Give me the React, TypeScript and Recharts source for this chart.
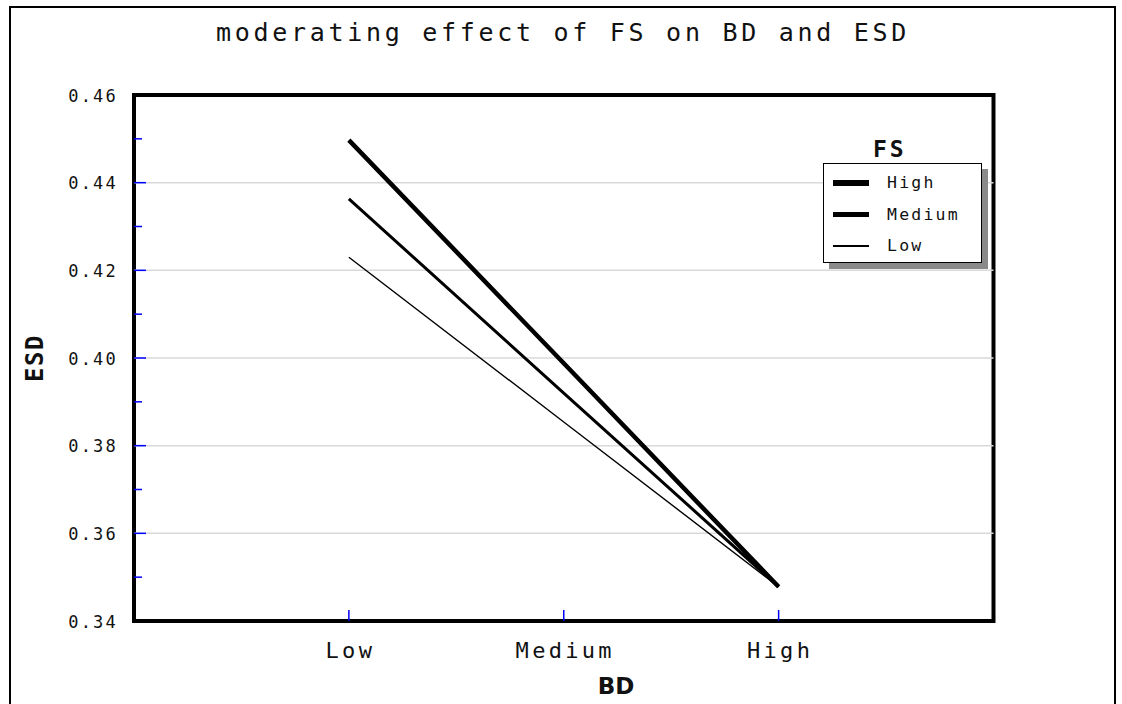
import { LineChart, Line, XAxis, YAxis, ReferenceLine, ReferenceArea, Legend } from "recharts";

const bdLevels = ["Low", "Medium", "High"];
const bdPositions = [1, 2, 3];
const fsHigh = [0.4497, 0.3988, 0.3478];
const fsMedium = [0.4363, 0.392, 0.3478];
const fsLow = [0.423, 0.3854, 0.3478];
const yTicks = [0.34, 0.35, 0.36, 0.37, 0.38, 0.39, 0.4, 0.41, 0.42, 0.43, 0.44, 0.45, 0.46];
const gridValues = [0.36, 0.38, 0.4, 0.42, 0.44];

const series = [
  { key: "High", values: fsHigh, width: 4.5, legendWidth: 6 },
  { key: "Medium", values: fsMedium, width: 3, legendWidth: 4.5 },
  { key: "Low", values: fsLow, width: 1.4, legendWidth: 2.5 },
];

const data = bdLevels.map((bd, i) => ({
  bd,
  pos: bdPositions[i],
  High: fsHigh[i],
  Medium: fsMedium[i],
  Low: fsLow[i],
}));

const MONO = "'DejaVu Sans Mono', monospace";

function YTick(props: any) {
  const { x, y, payload } = props;
  const v = payload.value as number;
  const major = Math.round(v * 100) % 2 === 0;
  const edge = v <= 0.34 || v >= 0.46;
  return (
    <g>
      {!edge && (
        <line x1={x} x2={x + (major ? 12 : 8)} y1={y} y2={y} stroke="#0000ff" strokeWidth={1.5} />
      )}
      {major && (
        <text
          x={x - 16}
          y={y}
          dy={6.5}
          textAnchor="end"
          fontFamily={MONO}
          fontSize={17}
          fill="#111"
          style={{ letterSpacing: 2.2 }}
        >
          {v.toFixed(2)}
        </text>
      )}
    </g>
  );
}

function XTick(props: any) {
  const { x, y, payload } = props;
  const label = bdLevels[bdPositions.indexOf(payload.value)];
  return (
    <g>
      <line x1={x} x2={x} y1={y - 11} y2={y} stroke="#0000ff" strokeWidth={1.5} />
      <text
        x={x + 1.5}
        y={y + 37}
        textAnchor="middle"
        fontFamily={MONO}
        fontSize={22}
        fill="#111"
        style={{ letterSpacing: 3.3 }}
      >
        {label}
      </text>
    </g>
  );
}

function FsLegend() {
  return (
    <div style={{ position: "relative", width: 175, height: 140, fontFamily: MONO }}>
      <div
        style={{
          position: "absolute",
          left: 50,
          top: 3,
          fontSize: 23,
          fontWeight: "bold",
          letterSpacing: 3,
          lineHeight: "23px",
          color: "#111",
        }}
      >
        FS
      </div>
      <div
        style={{
          position: "absolute",
          left: 6,
          top: 34,
          width: 159,
          height: 100,
          background: "#8a8a8a",
        }}
      />
      <div
        style={{
          position: "absolute",
          left: 0,
          top: 28,
          width: 159,
          height: 100,
          boxSizing: "border-box",
          border: "1.5px solid #000",
          background: "#fff",
        }}
      >
        {series.map((s, i) => (
          <div
            key={s.key}
            style={{ position: "absolute", left: 0, top: 19 + i * 31.5 - 10, height: 20, width: 155 }}
          >
            <div
              style={{
                position: "absolute",
                left: 9,
                top: 10 - s.legendWidth / 2,
                width: 36,
                height: s.legendWidth,
                background: "#000",
              }}
            />
            <div
              style={{
                position: "absolute",
                left: 63,
                top: 0,
                fontSize: 16.5,
                lineHeight: "20px",
                letterSpacing: 2.2,
                color: "#111",
              }}
            >
              {s.key}
            </div>
          </div>
        ))}
      </div>
    </div>
  );
}

const frameLine = { position: "absolute" as const, background: "#000" };

export default function App() {
  return (
    <div
      style={{
        position: "absolute",
        left: 0,
        top: 0,
        width: 1122,
        height: 704,
        overflow: "hidden",
        background: "#fff",
      }}
    >
      <div style={{ ...frameLine, left: 9, top: 6, width: 1107, height: 2 }} />
      <div style={{ ...frameLine, left: 9, top: 6, width: 2, height: 698 }} />
      <div style={{ ...frameLine, left: 1114, top: 6, width: 2, height: 698 }} />
      <div
        style={{
          position: "absolute",
          left: 0,
          top: 20,
          width: 1122,
          textAlign: "center",
          fontFamily: MONO,
          fontSize: 25,
          lineHeight: "25px",
          letterSpacing: 3.7,
          paddingLeft: 4,
          boxSizing: "border-box",
          color: "#111",
        }}
      >
        moderating effect of FS on BD and ESD
      </div>
      <div style={{ position: "absolute", left: 0, top: 0 }}>
        <LineChart
          width={1122}
          height={704}
          data={data}
          margin={{ top: 95, right: 128.5, bottom: 0, left: 0 }}
        >
          <XAxis
            type="number"
            dataKey="pos"
            domain={[0, 4]}
            ticks={bdPositions}
            interval={0}
            height={83}
            tickSize={0}
            tickMargin={0}
            axisLine={false}
            tickLine={false}
            tick={<XTick />}
          />
          <YAxis
            type="number"
            domain={[0.34, 0.46]}
            ticks={yTicks}
            interval={0}
            width={134}
            tickSize={0}
            tickMargin={0}
            axisLine={false}
            tickLine={false}
            tick={<YTick />}
          />
          {gridValues.map((v) => (
            <ReferenceLine key={v} y={v} stroke="#d9d9d9" strokeWidth={1.5} />
          ))}
          {[...series].reverse().map((s) => (
            <Line
              key={s.key}
              type="linear"
              dataKey={s.key}
              name={s.key}
              stroke="#000"
              strokeWidth={s.width}
              dot={false}
              activeDot={false}
              isAnimationActive={false}
            />
          ))}
          <ReferenceArea
            x1={0}
            x2={4}
            y1={0.34}
            y2={0.46}
            fill="none"
            fillOpacity={0}
            stroke="#000"
            strokeWidth={4}
            ifOverflow="visible"
          />
          <Legend
            layout="vertical"
            verticalAlign="middle"
            align="center"
            wrapperStyle={{ left: 823, top: 135, width: 175, height: 140 }}
            content={<FsLegend />}
          />
        </LineChart>
      </div>
      <div
        style={{
          position: "absolute",
          left: 35 - 40,
          top: 358 - 12,
          width: 80,
          height: 24,
          lineHeight: "24px",
          textAlign: "center",
          transform: "rotate(-90deg)",
          fontFamily: MONO,
          fontWeight: "bold",
          fontSize: 24,
          letterSpacing: 1.5,
          color: "#111",
        }}
      >
        ESD
      </div>
      <div
        style={{
          position: "absolute",
          left: 616 - 40,
          top: 675,
          width: 80,
          textAlign: "center",
          fontFamily: "'DejaVu Sans', sans-serif",
          fontWeight: "bold",
          fontSize: 23,
          lineHeight: "23px",
          color: "#111",
        }}
      >
        BD
      </div>
    </div>
  );
}
